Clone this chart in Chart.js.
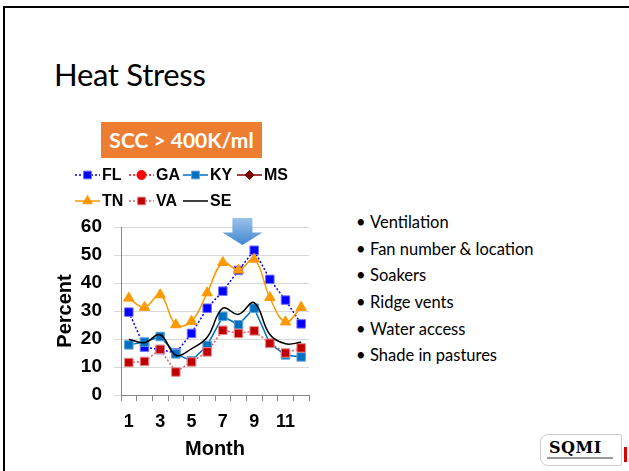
<!DOCTYPE html>
<html>
<head>
<meta charset="utf-8">
<script src="https://cdn.jsdelivr.net/npm/chart.js@4.4.0/dist/chart.umd.min.js"></script>
<style>
  body { margin: 0; width: 629px; height: 471px; overflow: hidden; background: #fff; position: relative; font-family: Lato, "Open Sans", sans-serif; }
  .frame { position: absolute; left: 3px; top: 6px; width: 700px; height: 600px; border-left: 2px solid #000; border-top: 2px solid #000; }
  .title { position: absolute; left: 54px; top: 55px; font-size: 31px; font-weight: 400; color: #000; letter-spacing: -0.3px; }
  .badge { position: absolute; left: 101px; top: 122px; width: 161px; height: 36px; background: #ED7D31; color: #fff;
           font-weight: bold; font-size: 21px; line-height: 36px; text-align: center; }
  .bullets { position: absolute; left: 356px; top: 212px; margin: 0; padding: 0; list-style: none; font-size: 16.5px; color: #000; }
  .bullets li { height: 26.7px; line-height: 21px; }
  .bullets li::before { content: "\2022"; display: inline-block; width: 14px; }
  .logo { position: absolute; left: 540px; top: 434px; width: 80px; height: 30px; border: 1px solid #ccc; border-radius: 8px 2px 2px 8px; }
  .logo b { position: absolute; left: 8px; top: 3px; font-family: "DejaVu Serif", serif; font-size: 16px; letter-spacing: 0.5px; }
  .logo i { position: absolute; left: 6px; top: 22px; width: 66px; height: 2px; background: #999; }
  .cap { position: absolute; left: 624px; top: 447px; width: 3px; height: 15px; background: #d00; }
  #wrap { position: absolute; left: 0; top: 150px; width: 330px; height: 320px; }
</style>
</head>
<body>
<div class="frame"></div>
<div class="title">Heat Stress</div>
<div class="badge">SCC &gt; 400K/ml</div>
<ul class="bullets">
  <li>Ventilation</li>
  <li>Fan number &amp; location</li>
  <li>Soakers</li>
  <li>Ridge vents</li>
  <li>Water access</li>
  <li>Shade in pastures</li>
</ul>
<div class="logo"><b>SQMI</b><i></i></div>
<div class="cap"></div>
<div id="wrap"><canvas id="heat"></canvas></div>
<script>
// Percent of samples with SCC > 400K/ml, by month
const months = ["1", "2", "3", "4", "5", "6", "7", "8", "9", "10", "11", "12"];
const fl = [29.6, 17.1, 16.2, 15.0, 22.0, 31.0, 37.1, 44.5, 51.7, 41.3, 33.9, 25.4];
const ga = [null, null, null, null, null, null, null, null, null, null, null, null];
const ky = [17.9, 18.9, 20.9, 14.7, 12.2, 17.7, 28.1, 25.1, 31.0, 18.4, 14.3, 13.6];
const ms = [null, null, null, null, null, null, null, null, null, null, null, null];
const tn = [34.6, 31.3, 35.8, 25.1, 26.3, 36.5, 47.3, 44.6, 48.5, 34.8, 26.1, 31.3];
const va = [11.6, 12.0, 16.3, 8.2, 11.8, 15.4, 23.1, 22.0, 22.9, 18.5, 15.0, 16.8];
const se = [19.9, 18.7, 21.5, 14.2, 16.5, 20.6, 31.0, 28.8, 33.0, 21.6, 18.3, 18.8];
const yTicks = [0, 10, 20, 30, 40, 50, 60];

const axisFont = { family: "'Liberation Sans', Arial, sans-serif", weight: "bold", size: 19 };

// legend with line + marker samples, four per row
const lineLegend = {
    id: "lineLegend",
    afterDraw(chart) {
        const ctx = chart.ctx;
        ctx.save();
        ctx.font = "bold 16px 'Liberation Sans', Arial, sans-serif";
        ctx.textBaseline = "middle";
        chart.data.datasets.forEach((ds, i) => {
            const x = 75 + (i % 4) * 54;
            const y = i < 4 ? 25 : 51;
            ctx.strokeStyle = ds.borderColor;
            ctx.lineWidth = ds.borderWidth;
            ctx.setLineDash(ds.borderDash || []);
            ctx.beginPath();
            ctx.moveTo(x, y);
            ctx.lineTo(x + 25, y);
            ctx.stroke();
            ctx.setLineDash([]);
            if (ds.pointRadius > 0) {
                ctx.fillStyle = ds.pointBackgroundColor;
                ctx.strokeStyle = ds.pointBorderColor;
                ctx.lineWidth = 1;
                Chart.helpers.drawPoint(ctx, { pointStyle: ds.pointStyle, radius: ds.pointRadius - 0.5, borderWidth: 1 }, x + 12.5, y);
            }
            ctx.fillStyle = "#000";
            ctx.fillText(ds.label, x + 27, y + 1);
        });
        ctx.restore();
    }
};

// blue arrow pointing at the peak months
const peakArrow = {
    id: "peakArrow",
    afterDraw(chart) {
        const ctx = chart.ctx;
        const xs = chart.scales.x;
        const top = chart.chartArea.top;
        const cx = xs.getPixelForValue(7) + 0.25 * (xs.getPixelForValue(8) - xs.getPixelForValue(7));
        const g = ctx.createLinearGradient(0, top - 9, 0, top + 18);
        g.addColorStop(0, "#9CC3EA");
        g.addColorStop(1, "#3F86CF");
        ctx.save();
        ctx.fillStyle = g;
        ctx.beginPath();
        ctx.moveTo(cx - 10, top - 9);
        ctx.lineTo(cx + 10, top - 9);
        ctx.lineTo(cx + 10, top + 5.5);
        ctx.lineTo(cx + 20, top + 5.5);
        ctx.lineTo(cx, top + 18);
        ctx.lineTo(cx - 20, top + 5.5);
        ctx.lineTo(cx - 10, top + 5.5);
        ctx.closePath();
        ctx.fill();
        ctx.restore();
    }
};

function series(label, data, color, opts) {
    return Object.assign({
        label: label,
        data: data,
        borderColor: color,
        borderWidth: 1.5,
        pointBackgroundColor: color,
        pointBorderColor: color,
        pointBorderWidth: 1,
        pointRadius: 6,
        pointHoverRadius: 6,
        tension: 0,
        spanGaps: true
    }, opts);
}

new Chart(document.getElementById("heat"), {
    type: "line",
    data: {
        labels: months,
        datasets: [
            series("FL", fl, "#0000FF", { pointStyle: "rect", borderDash: [2, 2], pointBorderColor: "#6F6FFF", order: 7 }),
            series("GA", ga, "#FF0000", { pointStyle: "circle", borderDash: [2, 2], pointRadius: 5, order: 6 }),
            series("KY", ky, "#0070C0", { pointStyle: "rect", pointBorderColor: "#5FA3D8", order: 5 }),
            series("MS", ms, "#7F0000", { pointStyle: "rectRot", pointRadius: 5, order: 4 }),
            series("TN", tn, "#FF9900", { pointStyle: "triangle", tension: 0.4, order: 3 }),
            series("VA", va, "#C00000", { pointStyle: "rect", borderDash: [2, 2], borderColor: "#E06060", pointBorderColor: "#E88A8A", order: 2 }),
            series("SE", se, "#000000", { pointRadius: 0, tension: 0.4, order: 1 })
        ]
    },
    options: {
        responsive: true,
        maintainAspectRatio: false,
        animation: false,
        layout: { padding: { left: 49, right: 21, top: 77, bottom: 9 } },
        plugins: {
            legend: { display: false },
            tooltip: { enabled: false }
        },
        scales: {
            x: {
                offset: true,
                grid: { offset: true, drawOnChartArea: false, tickLength: 6, color: "#868686" },
                border: { color: "#868686", width: 1 },
                ticks: {
                    autoSkip: false, maxRotation: 0, padding: 10, color: "#000",
                    font: { family: axisFont.family, weight: "bold", size: 18 },
                    callback: (v, i) => (i % 2 === 0 ? months[i] : "")
                },
                title: { display: true, text: "Month", color: "#000", font: { family: axisFont.family, weight: "bold", size: 20 }, padding: 0 },
                afterFit: s => { s.height = 66; }
            },
            y: {
                min: 0, max: 60,
                afterBuildTicks: s => { s.ticks = yTicks.map(v => ({ value: v })); },
                grid: { color: "#D9D9D9", tickLength: 7, tickColor: "#D9D9D9" },
                border: { color: "#868686", width: 1 },
                ticks: { padding: 12, color: "#000", font: axisFont },
                title: { display: true, text: "Percent", color: "#000", font: { family: axisFont.family, weight: "bold", size: 20 }, padding: 4 },
                afterFit: s => { s.width = 72; }
            }
        }
    },
    plugins: [lineLegend, peakArrow]
});
</script>
</body>
</html>
